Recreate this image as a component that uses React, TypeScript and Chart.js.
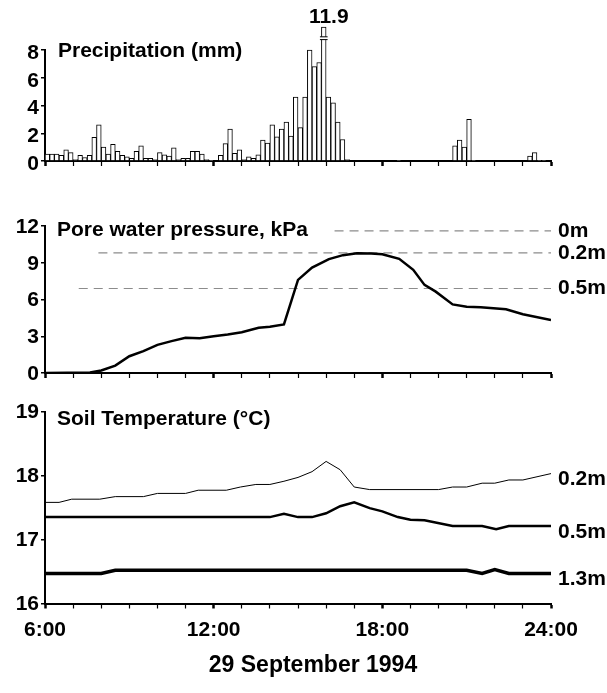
import React, { useEffect, useRef } from "react";
import { Chart, registerables } from "chart.js";
Chart.register(...registerables);

const FONT = "'Liberation Sans', Arial, Helvetica, sans-serif";
const BOLD = `bold 21px ${FONT}`;
const BOLD_DATE = `bold 23px ${FONT}`;

// ---- shared time axis (hours of 29 Sep 1994) ----
const HOUR_MIN = 6;
const HOUR_MAX = 24;
const HOUR_LABEL_EVERY = 6;
const DATE_LABEL = "29 September 1994";

// ---- precipitation, 10-minute totals from 6:00 (mm) ----
const PRECIP_START_HOUR = 6;
const PRECIP_STEP_HOURS = 1 / 6;
const PRECIP_MM = [
  0.5, 0.5, 0.5, 0.4, 0.8, 0.6, 0.1, 0.4, 0.25, 0.4,
  1.7, 2.6, 1.0, 0.5, 1.2, 0.7, 0.4, 0.3, 0.2, 0.7,
  1.1, 0.2, 0.2, 0.1, 0.6, 0.45, 0.35, 0.95, 0.1, 0.2,
  0.2, 0.7, 0.7, 0.5, 0.1, 0.05, 0, 0.4, 1.25, 2.3,
  0.55, 0.8, 0.1, 0.3, 0.2, 0.45, 1.5, 1.3, 2.6, 1.75,
  2.3, 2.8, 1.8, 4.6, 2.4, 4.6, 8.0, 6.8, 7.1, 11.9,
  4.6, 4.2, 2.8, 1.55, 0.1, 0, 0, 0, 0, 0,
  0, 0, 0, 0, 0, 0.05, 0, 0, 0, 0,
  0, 0, 0, 0, 0, 0, 0, 1.1, 1.5, 1.0,
  3.0, 0.05, 0, 0, 0, 0, 0, 0, 0, 0,
  0, 0, 0, 0.35, 0.6, 0.05, 0.05, 0,
];
const PRECIP_AXIS_MAX = 8;
const PRECIP_STEP = 2;
const PRECIP_BREAK_DRAW_TOP = 9.65; // off-scale bars are drawn broken up to this level
const PRECIP_BREAK_MARKS = [8.75, 8.95];
const PRECIP_TITLE = "Precipitation (mm)";

// ---- pore water pressure (kPa) ----
const PWP_HOURS = [6, 7.6, 8.0, 8.5, 9.0, 9.5, 10.0, 10.5, 11.0, 11.5, 12.0, 12.5, 13.0, 13.6, 14.0, 14.5, 15.0, 15.5, 16.1, 16.6, 17.1, 17.6, 18.0, 18.6, 19.1, 19.5, 19.9, 20.5, 21.0, 21.5, 22.4, 23.0, 24.0];
const PWP_KPA = [0, 0.05, 0.2, 0.6, 1.37, 1.78, 2.3, 2.6, 2.87, 2.84, 3.0, 3.15, 3.33, 3.7, 3.77, 3.96, 7.6, 8.6, 9.3, 9.62, 9.78, 9.75, 9.7, 9.32, 8.42, 7.19, 6.64, 5.6, 5.4, 5.36, 5.2, 4.8, 4.32];
const PWP_REF_LABELS = ["0m", "0.2m", "0.5m"];
const PWP_REF_KPA = [11.6, 9.8, 6.9];
const PWP_REF_FROM_HOUR = [16.3, 7.9, 7.2];
const PWP_MIN = 0, PWP_MAX = 12, PWP_STEP = 3;
const PWP_TITLE = "Pore water pressure, kPa";

// ---- soil temperature (°C) ----
const T02_HOURS = [6, 6.5, 6.95, 7.95, 8.5, 9.5, 10.0, 11.0, 11.45, 12.45, 12.95, 13.5, 14.0, 14.5, 15.0, 15.5, 16.0, 16.5, 17.0, 17.55, 20.0, 20.5, 21.0, 21.55, 22.0, 22.5, 23.0, 24.0];
const T02_C = [17.58, 17.58, 17.63, 17.63, 17.67, 17.67, 17.72, 17.72, 17.77, 17.77, 17.82, 17.86, 17.86, 17.91, 17.97, 18.06, 18.22, 18.09, 17.82, 17.78, 17.78, 17.82, 17.82, 17.88, 17.88, 17.93, 17.93, 18.03];
const T05_HOURS = [6, 14.0, 14.5, 15.0, 15.5, 16.0, 16.5, 17.0, 17.55, 18.0, 18.55, 19.0, 19.5, 20.5, 21.55, 22.05, 22.5, 24];
const T05_C = [17.35, 17.35, 17.4, 17.35, 17.35, 17.41, 17.52, 17.58, 17.49, 17.44, 17.35, 17.31, 17.3, 17.21, 17.21, 17.16, 17.21, 17.21];
const T13_HOURS = [6, 8.0, 8.5, 21.0, 21.55, 22.0, 22.5, 24];
const T13_C = [16.47, 16.47, 16.52, 16.52, 16.47, 16.53, 16.47, 16.47];
const TEMP_LABELS = ["0.2m", "0.5m", "1.3m"];
const TEMP_WIDTHS = [1, 2.5, 3.5];
const TEMP_MIN = 16, TEMP_MAX = 19, TEMP_STEP = 1;
const TEMP_TITLE = "Soil Temperature (\u00B0C)";

const tickFont = { family: FONT, size: 21, weight: "bold" as const };

function makeX(showLabels: boolean, height: number, pad: number): any {
  return {
    type: "linear",
    min: HOUR_MIN,
    max: HOUR_MAX,
    offset: false,
    grid: {
      display: true,
      drawOnChartArea: false,
      drawTicks: true,
      tickLength: 5,
      color: "#000",
      offset: false,
      tickWidth: (c: any) => (c.tick && c.tick.value % HOUR_LABEL_EVERY === 0 ? 2.5 : 1.2),
    },
    border: { display: true, color: "#000", width: 2 },
    ticks: {
      stepSize: 1,
      autoSkip: false,
      maxRotation: 0,
      minRotation: 0,
      padding: pad,
      color: "#000",
      font: tickFont,
      callback: (v: any) => (showLabels && Number(v) % HOUR_LABEL_EVERY === 0 ? `${v}:00` : ""),
    },
    afterFit: (s: any) => {
      s.height = height;
    },
  };
}

function makeY(min: number, max: number, step: number, labelShift: number): any {
  return {
    type: "linear",
    min,
    max,
    grid: { display: true, drawOnChartArea: false, drawTicks: true, tickLength: 4, color: "#000", lineWidth: 1.5 },
    border: { display: true, color: "#000", width: 2 },
    ticks: { stepSize: step, autoSkip: false, color: "#000", font: tickFont, padding: 2, labelOffset: labelShift },
    afterFit: (s: any) => {
      s.width = 45;
    },
  };
}

function textPlugin(draw: (chart: any, ctx: CanvasRenderingContext2D) => void): any {
  return {
    id: "panelText",
    afterDraw(chart: any) {
      const ctx = chart.ctx;
      ctx.save();
      ctx.fillStyle = "#000";
      ctx.font = BOLD;
      ctx.textBaseline = "middle";
      draw(chart, ctx);
      ctx.restore();
    },
  };
}

const baseOptions = (padding: any) => ({
  responsive: false,
  maintainAspectRatio: false,
  animation: false,
  events: [],
  layout: { padding },
  plugins: { legend: { display: false }, tooltip: { enabled: false }, title: { display: false } },
});

function precipConfig(): any {
  const pts = PRECIP_MM.map((v, i) => ({
    x: PRECIP_START_HOUR + (i + 0.5) * PRECIP_STEP_HOURS,
    y: Math.min(v, PRECIP_BREAK_DRAW_TOP),
  }));
  return {
    type: "bar",
    data: {
      datasets: [
        {
          data: pts,
          backgroundColor: "#fff",
          borderColor: "#000",
          borderWidth: 1,
          barPercentage: 1,
          categoryPercentage: 1,
          borderSkipped: "bottom",
          clip: false,
        },
      ],
    },
    options: {
      ...baseOptions({ top: 50, left: 0, right: 56, bottom: 0 }),
      scales: { x: makeX(false, 29, 4), y: makeY(0, PRECIP_AXIS_MAX, PRECIP_STEP, 3) },
    },
    plugins: [
      textPlugin((chart, ctx) => {
        const a = chart.chartArea;
        const xs = chart.scales.x, ys = chart.scales.y;
        ctx.textAlign = "left";
        ctx.fillText(PRECIP_TITLE, a.left + 13, a.top + 1);
        PRECIP_MM.forEach((v, i) => {
          if (v <= PRECIP_AXIS_MAX) return;
          const cx = xs.getPixelForValue(PRECIP_START_HOUR + (i + 0.5) * PRECIP_STEP_HOURS);
          const half = (xs.getPixelForValue(PRECIP_STEP_HOURS) - xs.getPixelForValue(0)) / 2;
          const y1 = ys.getPixelForValue(PRECIP_BREAK_MARKS[0]);
          const y2 = ys.getPixelForValue(PRECIP_BREAK_MARKS[1]);
          ctx.fillStyle = "#fff";
          ctx.fillRect(cx - half - 1, y2, 2 * half + 2, y1 - y2);
          ctx.strokeStyle = "#000";
          ctx.lineWidth = 1;
          ctx.beginPath();
          ctx.moveTo(cx - half - 1.5, y1);
          ctx.lineTo(cx + half + 1.5, y1);
          ctx.moveTo(cx - half - 1.5, y2);
          ctx.lineTo(cx + half + 1.5, y2);
          ctx.stroke();
          ctx.fillStyle = "#000";
          ctx.textAlign = "center";
          ctx.fillText(String(v), cx + 5, 17);
        });
      }),
    ],
  };
}

function pwpConfig(): any {
  const main = {
    data: PWP_HOURS.map((h, i) => ({ x: h, y: PWP_KPA[i] })),
    borderColor: "#000",
    borderWidth: 2.5,
    pointRadius: 0,
    tension: 0,
    fill: false,
  };
  const refs = PWP_REF_KPA.map((k, i) => ({
    data: [
      { x: PWP_REF_FROM_HOUR[i], y: k },
      { x: HOUR_MAX, y: k },
    ],
    borderColor: "#8c8c8c",
    borderWidth: 1.2,
    borderDash: [9, 6],
    pointRadius: 0,
    fill: false,
  }));
  return {
    type: "line",
    data: { datasets: [main, ...refs] },
    options: {
      ...baseOptions({ top: 36, left: 0, right: 56, bottom: 0 }),
      scales: { x: makeX(false, 22, 4), y: makeY(PWP_MIN, PWP_MAX, PWP_STEP, 1) },
    },
    plugins: [
      textPlugin((chart, ctx) => {
        const a = chart.chartArea;
        const ys = chart.scales.y;
        ctx.textAlign = "left";
        ctx.fillText(PWP_TITLE, a.left + 12, a.top + 4);
        PWP_REF_KPA.forEach((k, i) => {
          ctx.fillText(PWP_REF_LABELS[i], a.right + 7, ys.getPixelForValue(k));
        });
      }),
    ],
  };
}

function tempConfig(): any {
  const series = [
    [T02_HOURS, T02_C],
    [T05_HOURS, T05_C],
    [T13_HOURS, T13_C],
  ];
  const datasets = series.map(([hs, vs], i) => ({
    data: hs.map((h, j) => ({ x: h, y: vs[j] })),
    borderColor: "#000",
    borderWidth: TEMP_WIDTHS[i],
    pointRadius: 0,
    tension: 0,
    fill: false,
  }));
  return {
    type: "line",
    data: { datasets },
    options: {
      ...baseOptions({ top: 16.5, left: 0, right: 56, bottom: 0 }),
      scales: { x: makeX(true, 89.5, 9), y: makeY(TEMP_MIN, TEMP_MAX, TEMP_STEP, 1) },
    },
    plugins: [
      textPlugin((chart, ctx) => {
        const a = chart.chartArea;
        const ys = chart.scales.y;
        ctx.textAlign = "left";
        ctx.fillText(TEMP_TITLE, a.left + 12, a.top + 8);
        series.forEach(([, vs], i) => {
          ctx.fillText(TEMP_LABELS[i], a.right + 7, ys.getPixelForValue(vs[vs.length - 1]) + 6);
        });
        ctx.textAlign = "center";
        ctx.font = BOLD_DATE;
        ctx.fillText(DATE_LABEL, (a.left + a.right) / 2 + 15, a.bottom + 62.5);
      }),
    ],
  };
}

export default function App() {
  const r1 = useRef<HTMLCanvasElement>(null);
  const r2 = useRef<HTMLCanvasElement>(null);
  const r3 = useRef<HTMLCanvasElement>(null);
  useEffect(() => {
    const charts = [
      new Chart(r1.current as HTMLCanvasElement, precipConfig()),
      new Chart(r2.current as HTMLCanvasElement, pwpConfig()),
      new Chart(r3.current as HTMLCanvasElement, tempConfig()),
    ];
    return () => charts.forEach((c) => c.destroy());
  }, []);
  return (
    <div style={{ position: "absolute", left: 0, top: 0, width: 607, height: 693, background: "#fff", overflow: "hidden" }}>
      <canvas ref={r1} width={607} height={190} style={{ position: "absolute", left: 0, top: 0 }} />
      <canvas ref={r2} width={607} height={205} style={{ position: "absolute", left: 0, top: 190 }} />
      <canvas ref={r3} width={607} height={298} style={{ position: "absolute", left: 0, top: 395 }} />
    </div>
  );
}
